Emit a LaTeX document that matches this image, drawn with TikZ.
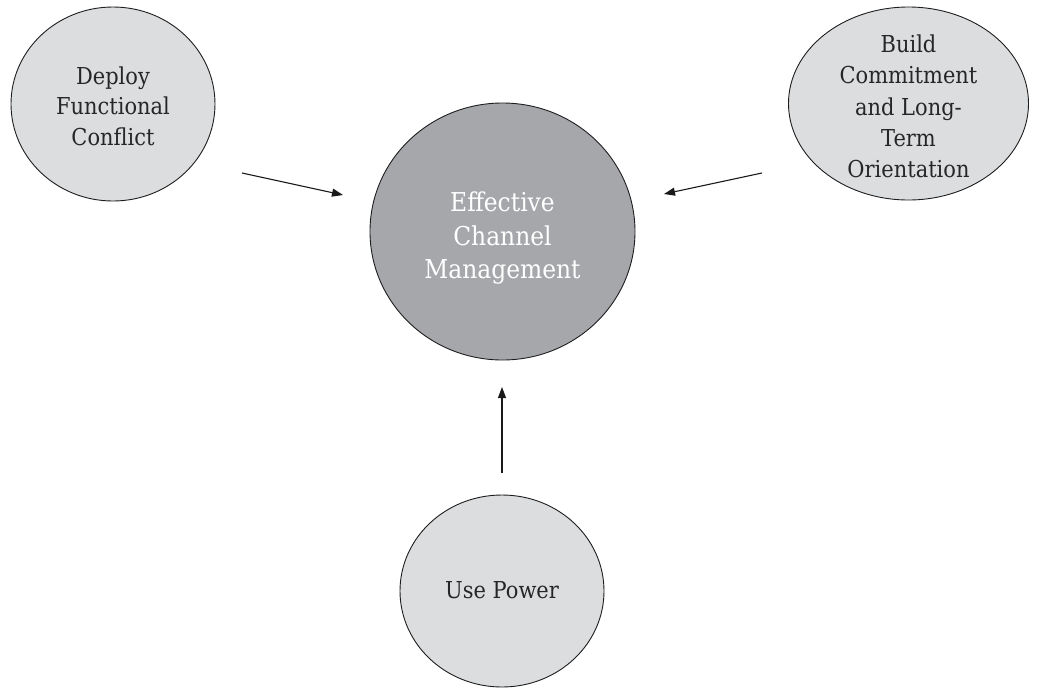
\documentclass[tikz,border=0pt]{standalone}
\usepackage{fontspec}
\setmainfont{DejaVu Serif}[FakeStretch=0.9]
\usetikzlibrary{shapes.geometric,arrows.meta}
\definecolor{lightdisc}{RGB}{220,221,223}
\definecolor{hubdisc}{RGB}{166,167,171}
\definecolor{inkline}{RGB}{30,30,30}
\begin{document}
\begin{tikzpicture}[x=1pt,y=-1pt,
  disc/.style={ellipse,draw=inkline,line width=0.9pt,inner sep=0pt},
  outer/.style={disc,fill=lightdisc},
  hub/.style={disc,fill=hubdisc},
  caption/.style={align=center,inner sep=0pt,font=\fontsize{23.3}{30.5}\selectfont,text=black!85},
  tallcaption/.style={caption,font=\fontsize{23.3}{31.3}\selectfont},
  hubcaption/.style={caption,font=\fontsize{26}{33.5}\selectfont,text=white},
  link/.style={draw=black!90,line width=1.1pt,-{Triangle[length=11pt,width=8pt]}}]
\useasboundingbox (0,0) rectangle (1042,689);

% the four discs
\node[outer,minimum width=204,minimum height=194] (conflict) at (113,104) {};
\node[outer,minimum width=240,minimum height=193] (commit) at (908.5,103.5) {};
\node[hub,minimum width=265,minimum height=257] (hub) at (502.5,231.5) {};
\node[outer,minimum width=204,minimum height=192] (power) at (502,591) {};

% their texts (yshift is on the page, so negative moves down)
\node[caption] (conflicttext) at ([yshift=-2]conflict.center) {Deploy\\Functional\\Conflict};
\node[tallcaption] (committext) at ([yshift=-3]commit.center) {Build\\Commitment\\and Long-\\Term\\Orientation};
\node[hubcaption] (hubtext) at ([yshift=-7]hub.center) {Effective\\Channel\\Management};
\node[caption] (powertext) at ([yshift=1]power.center) {Use Power};

% free ends of the arrows
\coordinate (a1s) at (242,173);
\coordinate (a1e) at (343,195);
\coordinate (a2s) at (762,173);
\coordinate (a2e) at (664,194);
\coordinate (a3s) at (502,473);
\coordinate (a3e) at (502,387);

\draw[link] (a1s) -- (a1e);
\draw[link] (a2s) -- (a2e);
\draw[link] (a3s) -- (a3e);
\end{tikzpicture}
\end{document}
